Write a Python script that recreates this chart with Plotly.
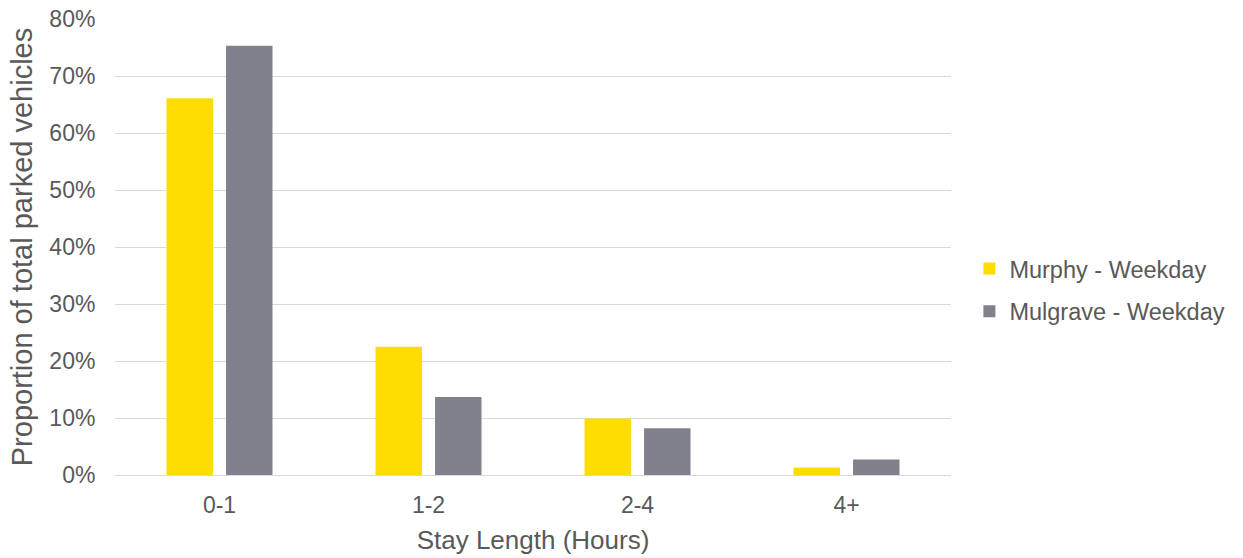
import plotly.graph_objects as go

categories = ["0-1", "1-2", "2-4", "4+"]
murphy = [0.661, 0.225, 0.099, 0.013]
mulgrave = [0.753, 0.137, 0.082, 0.027]
y_ticks = [0, 0.1, 0.2, 0.3, 0.4, 0.5, 0.6, 0.7, 0.8]

FONT = "Liberation Sans, Arial, sans-serif"
GRAY_TXT = "#595959"

fig = go.Figure()
fig.add_trace(go.Bar(x=categories, y=murphy, name="Murphy - Weekday",
                     marker=dict(color="#FFDD00", line=dict(width=0)),
                     legendgroup="a"))
fig.add_trace(go.Bar(x=categories, y=mulgrave, name="Mulgrave - Weekday",
                     marker=dict(color="#80818D", line=dict(width=0)),
                     legendgroup="b"))

fig.update_layout(
    width=1243, height=558,
    margin=dict(l=115, r=292, t=19, b=83),
    paper_bgcolor="white", plot_bgcolor="white",
    barmode="group", bargap=0.43, bargroupgap=0.22,
    font=dict(family=FONT, color=GRAY_TXT),
    legend=dict(x=1.022, y=0.405, xanchor="left", yanchor="middle",
                font=dict(size=23.5, color=GRAY_TXT), tracegroupgap=9,
                traceorder="grouped", itemwidth=30),
    xaxis=dict(showgrid=False, showline=True, linecolor="#D9D9D9", linewidth=1,
               tickfont=dict(size=23, color=GRAY_TXT), automargin=False,
               ticks="outside", ticklen=9, tickcolor="rgba(0,0,0,0)",
               title=dict(text="Stay Length (Hours)", font=dict(size=26, color=GRAY_TXT), standoff=14)),
    yaxis=dict(range=[0, 0.8001], tickvals=y_ticks, tickformat=".0%",
               showgrid=True, gridcolor="#D9D9D9", gridwidth=1,
               zeroline=False, showline=False, automargin=False,
               tickfont=dict(size=23, color=GRAY_TXT), ticklabeloverflow="allow",
               ticks="outside", ticklen=14, tickcolor="rgba(0,0,0,0)",
               title=dict(text="Proportion of total parked vehicles", font=dict(size=29, color=GRAY_TXT), standoff=8)),
)

fig.write_html("out.html", config={"displayModeBar": False},
               post_script="document.body.style.margin='0';")
